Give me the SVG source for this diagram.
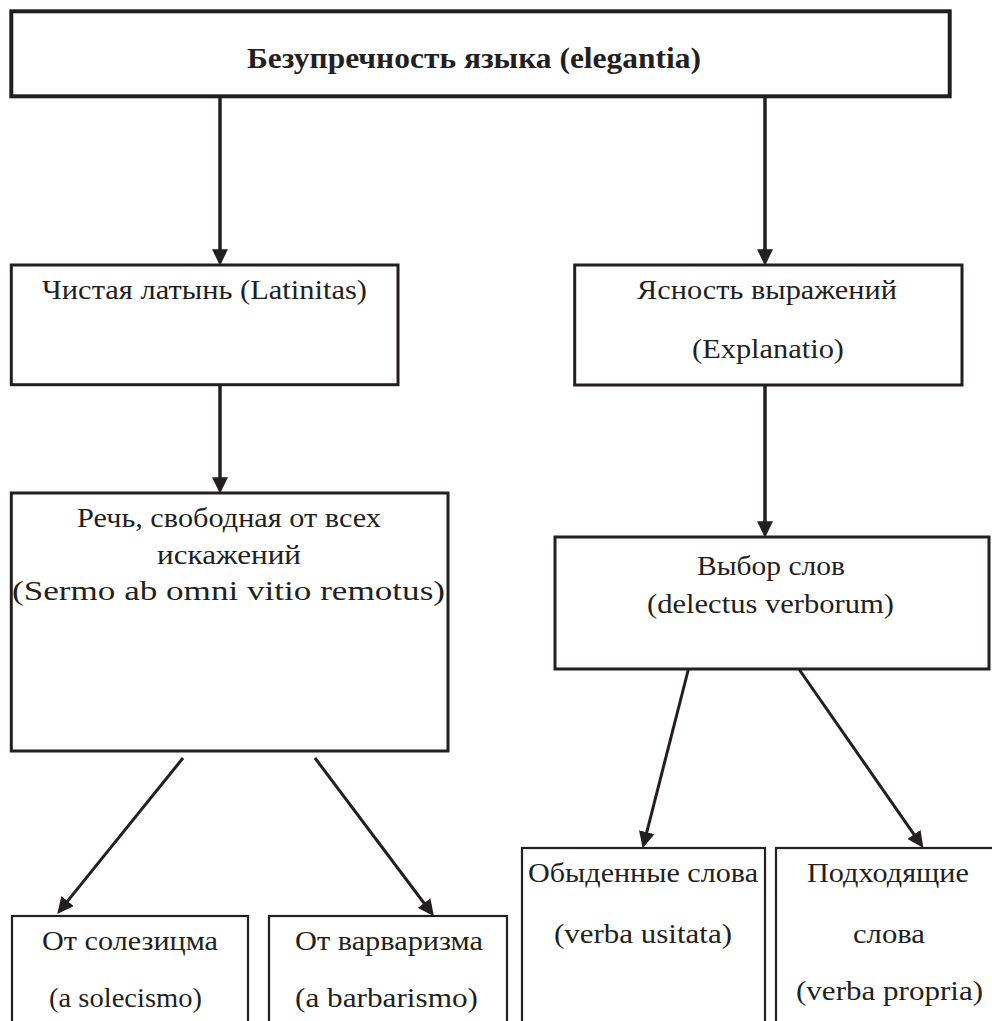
<svg xmlns="http://www.w3.org/2000/svg" width="992" height="1021" viewBox="0 0 992 1021">
<style>
  .box { fill: #ffffff; stroke: #231f20; stroke-width: 3; }
  .box-top { fill: #ffffff; stroke: #231f20; stroke-width: 4; }
  .box-thin { fill: #ffffff; stroke: #231f20; stroke-width: 2.2; }
  .t { font-family: "Liberation Serif", "Times New Roman", serif; font-size: 28px; fill: #231f20; }
  .tb { font-family: "Liberation Serif", "Times New Roman", serif; font-size: 29px; font-weight: bold; fill: #231f20; }
  .conn { stroke: #231f20; stroke-width: 3.5; fill: none; marker-end: url(#ah); }
  .diag { stroke: #231f20; stroke-width: 3; fill: none; marker-end: url(#ah); }
</style>
<defs>
  <marker id="ah" markerUnits="userSpaceOnUse" markerWidth="17" markerHeight="16" refX="4" refY="7.5" orient="auto" viewBox="0 0 16 15">
    <path d="M0,0 L15.5,7.5 L0,15 z" fill="#231f20"/>
  </marker>
</defs>
<rect x="0" y="0" width="992" height="1021" fill="#ffffff"/>

<g id="connectors">
  <line class="conn" x1="220" y1="98" x2="220" y2="253.5"/>
  <line class="conn" x1="765" y1="98" x2="765" y2="253.5"/>
  <line class="conn" x1="220" y1="386" x2="220" y2="481.5"/>
  <line class="conn" x1="765" y1="386" x2="765" y2="525.5"/>
  <line class="diag" x1="183" y1="758" x2="64.9" y2="904.4"/>
  <line class="diag" x1="315" y1="758" x2="426.6" y2="906.5"/>
  <line class="diag" x1="690" y1="663" x2="645.7" y2="836.3"/>
  <line class="diag" x1="794" y1="662" x2="916.4" y2="837.9"/>
</g>

<g id="node-elegantia">
  <rect class="box-top" x="11.3" y="11.3" width="938.4" height="85"/>
  <text class="tb" x="247" y="68" textLength="454" lengthAdjust="spacingAndGlyphs">Безупречность языка (elegantia)</text>
</g>

<g id="node-latinitas">
  <rect class="box" x="11.3" y="265" width="386.7" height="119.7"/>
  <text class="t" x="42" y="299" textLength="325" lengthAdjust="spacingAndGlyphs">Чистая латынь (Latinitas)</text>
</g>

<g id="node-explanatio">
  <rect class="box" x="574.7" y="265" width="387.3" height="120"/>
  <text class="t" x="637" y="299" textLength="260" lengthAdjust="spacingAndGlyphs">Ясность выражений</text>
  <text class="t" x="692" y="358" textLength="152" lengthAdjust="spacingAndGlyphs">(Explanatio)</text>
</g>

<g id="node-sermo">
  <rect class="box" x="11.3" y="493" width="436.7" height="258"/>
  <text class="t" x="77" y="527" textLength="304" lengthAdjust="spacingAndGlyphs">Речь, свободная от всех</text>
  <text class="t" x="157" y="564" textLength="144" lengthAdjust="spacingAndGlyphs">искажений</text>
  <text class="t" x="12" y="600" textLength="433" lengthAdjust="spacingAndGlyphs">(Sermo ab omni vitio remotus)</text>
</g>

<g id="node-delectus">
  <rect class="box" x="555" y="537" width="434" height="132"/>
  <text class="t" x="697" y="575" textLength="148" lengthAdjust="spacingAndGlyphs">Выбор слов</text>
  <text class="t" x="647" y="613" textLength="247" lengthAdjust="spacingAndGlyphs">(delectus verborum)</text>
</g>

<g id="node-solecismo">
  <rect class="box-thin" x="12" y="916" width="236" height="200"/>
  <text class="t" x="42" y="950" textLength="176" lengthAdjust="spacingAndGlyphs">От солезицма</text>
  <text class="t" x="49" y="1007" textLength="153" lengthAdjust="spacingAndGlyphs">(a solecismo)</text>
</g>

<g id="node-barbarismo">
  <rect class="box-thin" x="269" y="916" width="238" height="200"/>
  <text class="t" x="295" y="950" textLength="188" lengthAdjust="spacingAndGlyphs">От варваризма</text>
  <text class="t" x="295" y="1007" textLength="183" lengthAdjust="spacingAndGlyphs">(a barbarismo)</text>
</g>

<g id="node-usitata">
  <rect class="box-thin" x="522" y="848" width="243" height="220"/>
  <text class="t" x="528" y="882" textLength="230" lengthAdjust="spacingAndGlyphs">Обыденные слова</text>
  <text class="t" x="554" y="943" textLength="178" lengthAdjust="spacingAndGlyphs">(verba usitata)</text>
</g>

<g id="node-propria">
  <rect class="box-thin" x="776" y="848" width="250" height="220"/>
  <text class="t" x="807" y="882" textLength="162" lengthAdjust="spacingAndGlyphs">Подходящие</text>
  <text class="t" x="853" y="943" textLength="72" lengthAdjust="spacingAndGlyphs">слова</text>
  <text class="t" x="796" y="1000" textLength="187" lengthAdjust="spacingAndGlyphs">(verba propria)</text>
</g>
</svg>
